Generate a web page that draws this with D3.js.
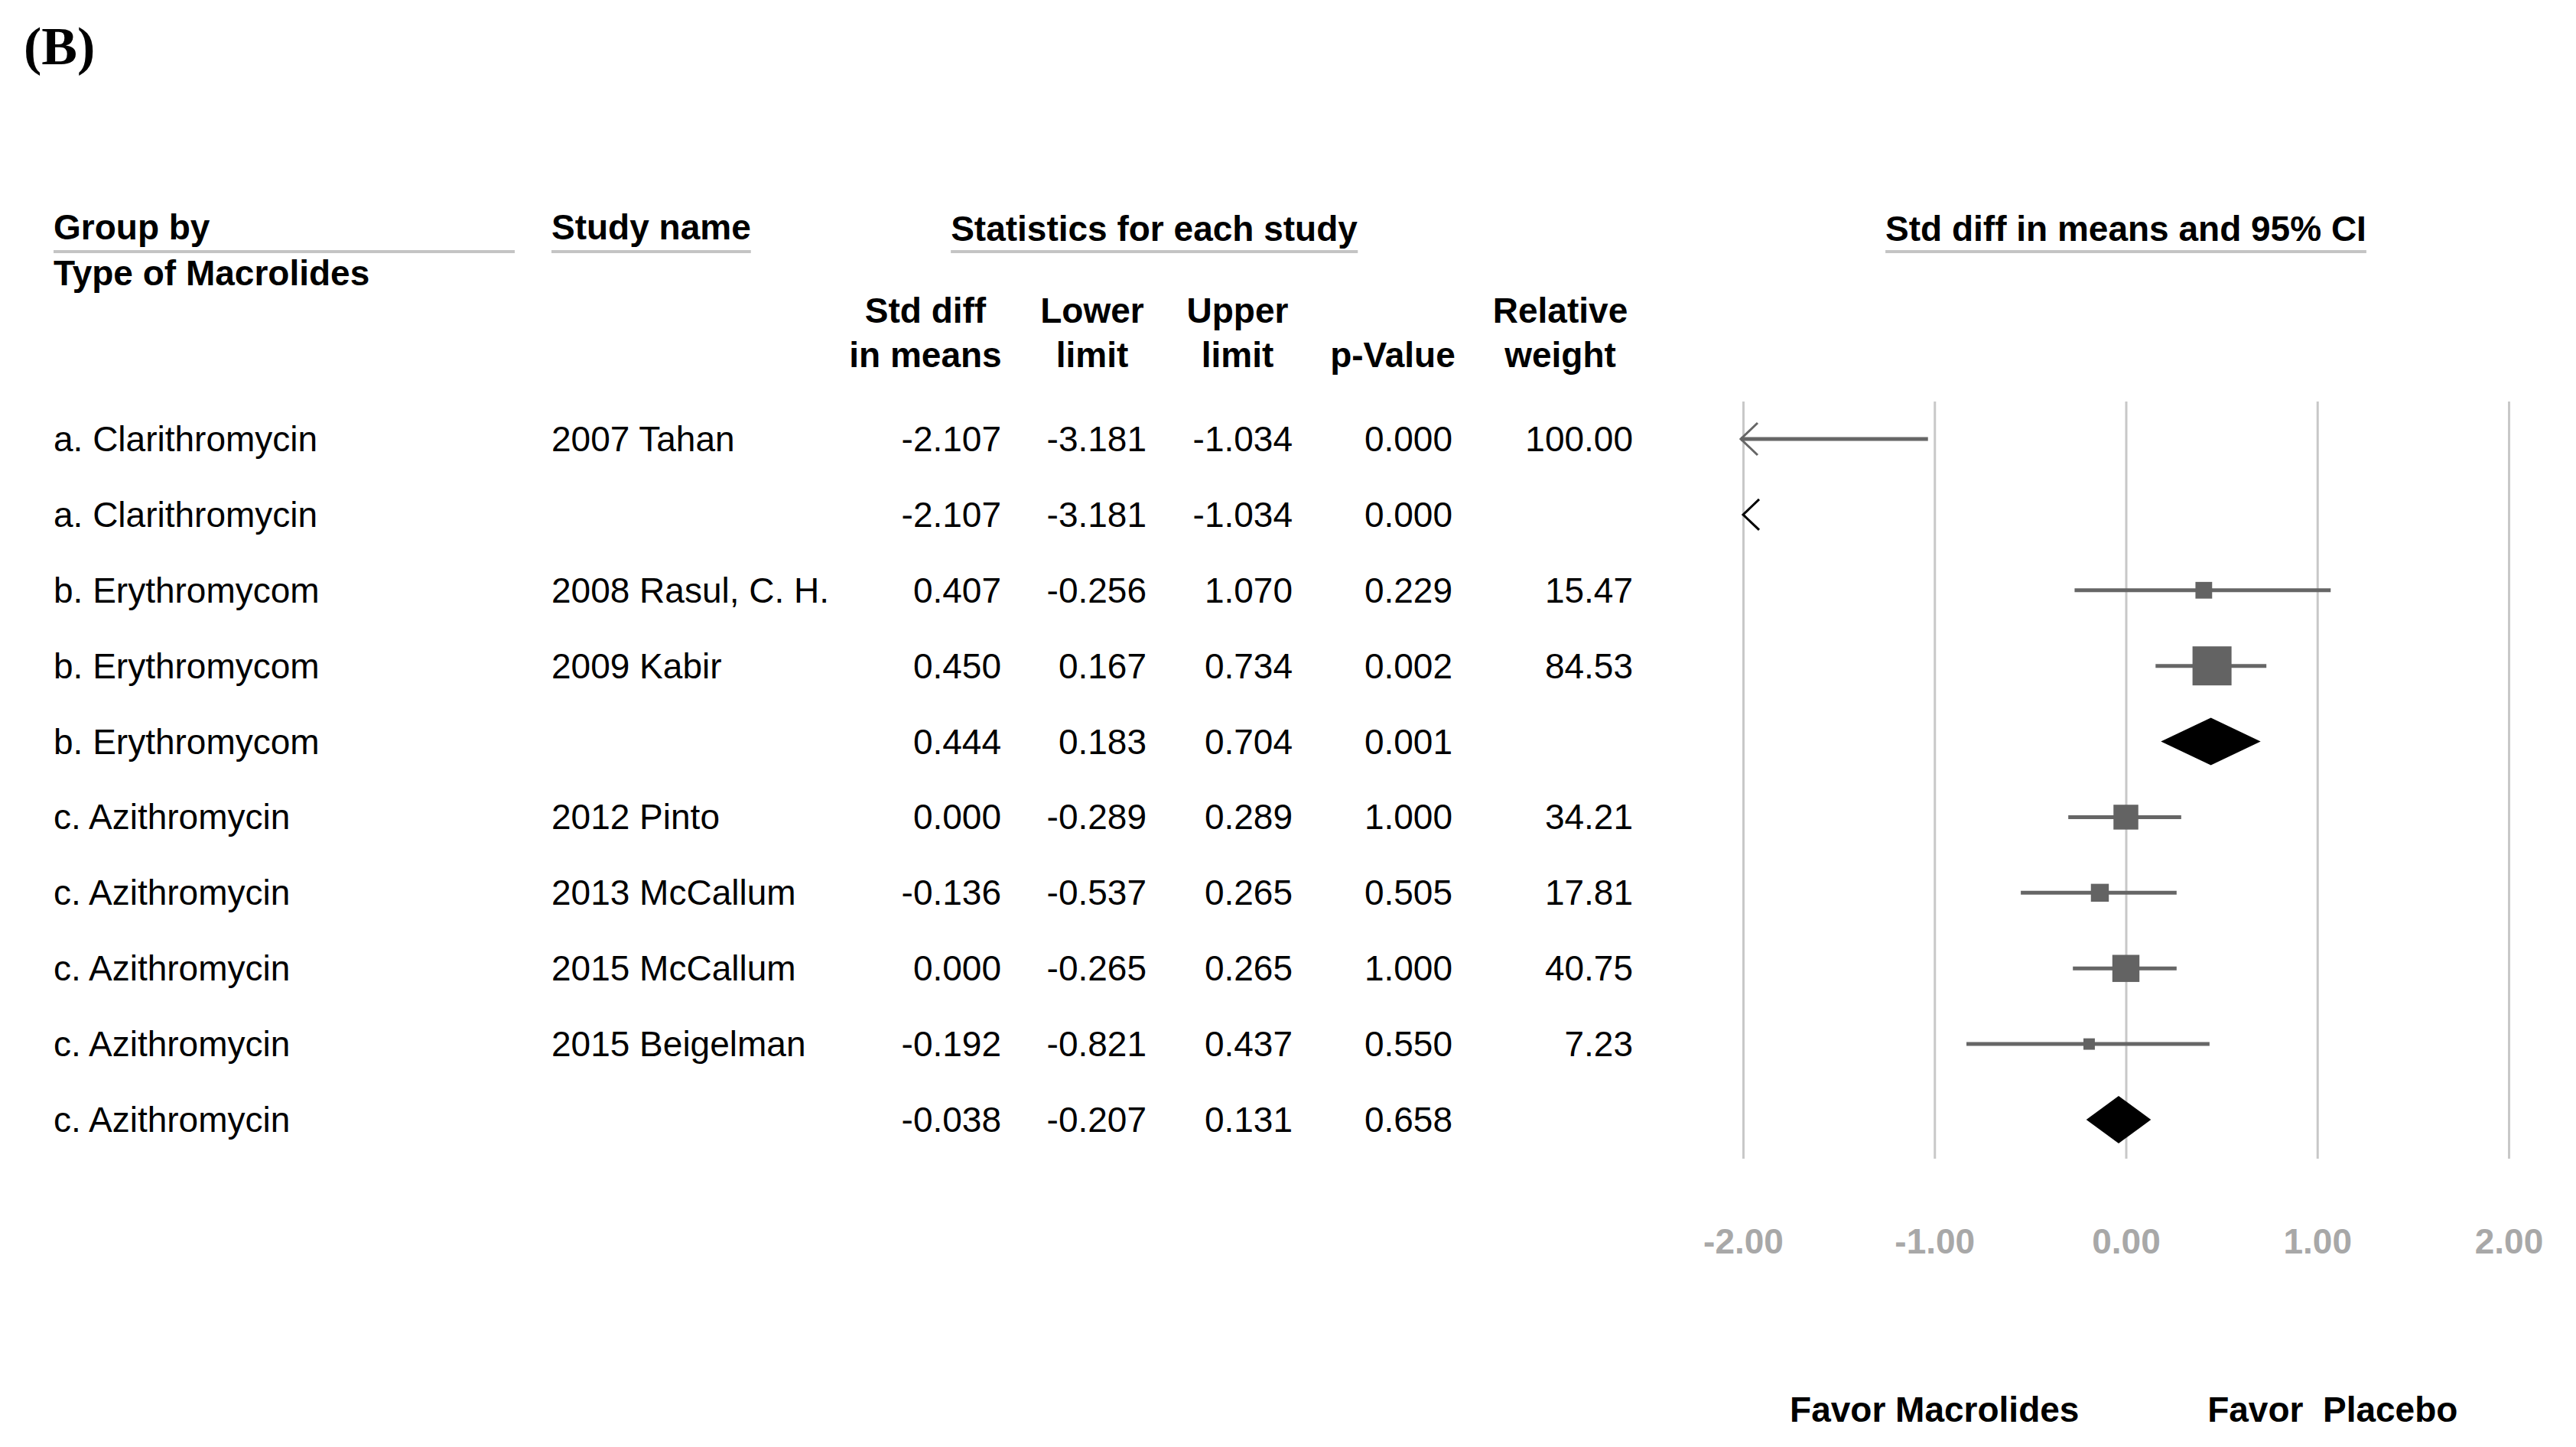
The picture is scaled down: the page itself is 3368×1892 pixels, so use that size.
<!DOCTYPE html>
<html><head><meta charset="utf-8">
<script src="https://cdn.jsdelivr.net/npm/d3@7"></script>
<style>
body{margin:0;background:#fff;}
svg{display:block;font-family:"Liberation Sans",Arial,sans-serif;}
</style></head>
<body><svg id="chart" width="3368" height="1892"></svg>
<script>
const groups = ["a. Clarithromycin","a. Clarithromycin","b. Erythromycom","b. Erythromycom","b. Erythromycom","c. Azithromycin","c. Azithromycin","c. Azithromycin","c. Azithromycin","c. Azithromycin"];
const studies = ["2007 Tahan","","2008 Rasul, C. H.","2009 Kabir","","2012 Pinto","2013 McCallum","2015 McCallum","2015 Beigelman",""];
const stdDiff = [-2.107,-2.107,0.407,0.450,0.444,0.000,-0.136,0.000,-0.192,-0.038];
const lowerLimit = [-3.181,-3.181,-0.256,0.167,0.183,-0.289,-0.537,-0.265,-0.821,-0.207];
const upperLimit = [-1.034,-1.034,1.070,0.734,0.704,0.289,0.265,0.265,0.437,0.131];
const pValues = ["0.000","0.000","0.229","0.002","0.001","1.000","0.505","1.000","0.550","0.658"];
const relWeight = [100.00,null,15.47,84.53,null,34.21,17.81,40.75,7.23,null];
const isSummary = [false,true,false,false,true,false,false,false,false,true];
const tickValues = [-2,-1,0,1,2];
const tickLabels = ["-2.00","-1.00","0.00","1.00","2.00"];

const svg = d3.select("#chart");
const FS = 46;
const x = d3.scaleLinear().domain([-2,2]).range([2279,3280]);
const y = d3.scaleLinear().domain([0,9]).range([574,1464]);
const sq = d3.scaleSqrt().domain([0,100]).range([0,55.5]);
const loc = d3.formatLocale({decimal:".",thousands:",",grouping:[3],currency:["",""],minus:"-"});
const fmt = loc.format(".3f");

// panel label
svg.append("text").attr("x",31).attr("y",84).attr("font-family","'Liberation Serif','Times New Roman',serif")
  .attr("font-weight","bold").attr("font-size",70).attr("fill","#000").text("(B)");

// headers
function header(txt,xx,yy,anchor,underline){
  const t = svg.append("text").attr("x",xx).attr("y",yy).attr("text-anchor",anchor||"start")
    .attr("font-size",FS).attr("font-weight","bold").attr("fill","#000").text(txt);
  if(underline){
    const bb = t.node().getBBox();
    const x1 = underline.x1!=null?underline.x1:bb.x, x2 = underline.x2!=null?underline.x2:bb.x+bb.width;
    svg.append("line").attr("x1",x1).attr("x2",x2).attr("y1",329).attr("y2",329)
      .attr("stroke","#c4c4c4").attr("stroke-width",4);
  }
  return t;
}
header("Group by",70,313,"start",{x1:70,x2:673});
header("Type of Macrolides",70,373,"start");
header("Study name",721,313,"start",{});
header("Statistics for each study",1509,315,"middle",{});
header("Std diff in means and 95% CI",x(0),315,"middle",{});

const colHeads = [
  {l1:"Std diff",l2:"in means",cx:1210},
  {l1:"Lower",l2:"limit",cx:1428},
  {l1:"Upper",l2:"limit",cx:1618},
  {l1:"",l2:"p-Value",cx:1821},
  {l1:"Relative",l2:"weight",cx:2040}
];
colHeads.forEach(c=>{
  if(c.l1) header(c.l1,c.cx,422,"middle");
  header(c.l2,c.cx,480,"middle");
});

// gridlines & axis
const axisG = svg.append("g").attr("transform","translate(0,1515)")
  .call(d3.axisBottom(x).tickValues(tickValues).tickSizeInner(-990).tickSizeOuter(0)
    .tickPadding(0).tickFormat((d,i)=>tickLabels[i]));
axisG.select(".domain").remove();
axisG.selectAll(".tick line").attr("stroke","#c8c8c8").attr("stroke-width",3);
axisG.selectAll(".tick text").attr("y",124).attr("dy",0).attr("font-size",FS).attr("font-weight","bold")
  .attr("fill","#a8a8a8").attr("font-family","'Liberation Sans',Arial,sans-serif");

// table rows
const rows = d3.range(groups.length);
const colRight = [1309,1499,1690,1899,2135];
const rg = svg.append("g").attr("font-size",FS).attr("fill","#000");
rows.forEach(i=>{
  const by = y(i)+16;
  rg.append("text").attr("x",70).attr("y",by).text(groups[i]);
  if(studies[i]) rg.append("text").attr("x",721).attr("y",by).text(studies[i]);
  const vals=[fmt(stdDiff[i]),fmt(lowerLimit[i]),fmt(upperLimit[i]),pValues[i],relWeight[i]!=null&&!isSummary[i]?relWeight[i].toFixed(2):""];
  vals.forEach((v,k)=>{ if(v) rg.append("text").attr("x",colRight[k]).attr("y",by).attr("text-anchor","end").text(v); });
});

// forest marks
const [dmin,dmax]=x.domain();
const fg = svg.append("g");
rows.forEach(i=>{
  const cy=y(i);
  if(isSummary[i]){
    if(lowerLimit[i]>=dmin && upperLimit[i]<=dmax){
      const pts=[[x(lowerLimit[i]),cy],[x(stdDiff[i]),cy-31],[x(upperLimit[i]),cy],[x(stdDiff[i]),cy+31]];
      fg.append("path").attr("d",d3.line()(pts)+"Z").attr("fill","#000");
    } else {
      const tx=x(dmin);
      fg.append("path").attr("d",d3.line()([[tx+21,cy-20],[tx,cy],[tx+21,cy+20]]))
        .attr("fill","none").attr("stroke","#000").attr("stroke-width",3);
    }
  } else {
    const lo=Math.max(lowerLimit[i],dmin), hi=Math.min(upperLimit[i],dmax);
    fg.append("line").attr("x1",x(lo)-3).attr("x2",x(hi)).attr("y1",cy).attr("y2",cy)
      .attr("stroke","#666").attr("stroke-width",5);
    if(lowerLimit[i]<dmin){
      const tx=x(dmin)-3;
      fg.append("path").attr("d",d3.line()([[tx+22,cy-21],[tx,cy],[tx+22,cy+21]]))
        .attr("fill","none").attr("stroke","#666").attr("stroke-width",3);
    }
    if(stdDiff[i]>=dmin && stdDiff[i]<=dmax && relWeight[i]!=null){
      const s=sq(relWeight[i]);
      fg.append("rect").attr("x",x(stdDiff[i])-s/2).attr("y",cy-s/2).attr("width",s).attr("height",s).attr("fill","#636363");
    }
  }
});

// bottom labels
svg.append("text").attr("x",x(-1)).attr("y",1859).attr("text-anchor","middle").attr("font-size",FS)
  .attr("font-weight","bold").text("Favor Macrolides");
svg.append("text").attr("x",x(1)+20).attr("y",1859).attr("text-anchor","middle").attr("font-size",FS)
  .attr("font-weight","bold").attr("xml:space","preserve").style("white-space","pre").text("Favor  Placebo");
</script></body></html>
